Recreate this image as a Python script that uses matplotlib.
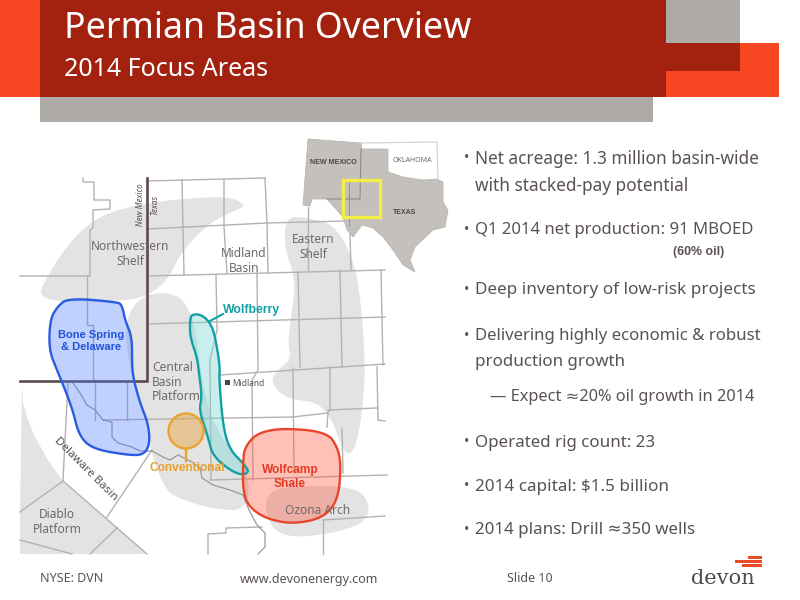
import numpy as np
import matplotlib
matplotlib.use("Agg")
import matplotlib.pyplot as plt
from matplotlib.patches import Polygon, Rectangle, Circle

# all shapes are in slide pixels (800x600)
northwest_shelf = [(38,296),(47,277),(65,248),(91,221),(122,208),(167,200),(227,196),(247,205),(234,211),(213,221),(194,238),(178,258),(171,274),(158,289),(135,301),(60,302)]
central_platform = [(125,320),(141,295),(174,292),(190,309),(197,340),(205,400),(222,440),(250,472),(247,511),(213,509),(180,499),(165,490),(150,450),(147,420),(128,363)]
eastern_shelf = [(286,216),(310,218),(335,225),(355,262),(362,313),(365,363),(364,393),(359,435),(351,456),(342,449),(332,419),(317,402),(287,399),(271,384),(275,372),(291,360),(288,343),(291,317),(296,280),(284,247)]
ozona_arch = [(264,500),(278,486),(355,486),(370,503),(366,522),(335,533),(290,538),(270,527)]
diablo_platform = [(63,481),(117,528),(147,554),(20,554),(20,512)]
west_band = [(22,383),(23,403),(28,420),(35,437),(48,460),(63,481),(20,512)]

bone_spring = [(50,320),(57,307),(68,298),(117,302),(122,305),(125,320),(132,337),(132,363),(133,377),(140,403),(148,423),(150,443),(144,455),(127,455),(93,449),(79,436),(72,407),(57,370),(49,350)]
wolfberry = [(190,320),(192,314),(203,315),(213,327),(218,353),(220,370),(219,377),(223,427),(230,450),(243,463),(250,473),(237,475),(213,457),(208,437),(199,410),(202,397),(199,373),(197,357),(190,337)]
wolfcamp = [(243,460),(245,447),(257,433),(283,428),(327,432),(338,448),(341,467),(338,500),(323,518),(293,524),(267,519),(250,508),(243,493)]
conventional_center = (186,431)
conventional_radius = 17.5

county_lines = [
    [(83,178),(83,182),(94,182),(94,200),(110,200),(110,209),(93,210),(93,228),(90,230),(90,276),(20,276)],
    [(87,276),(87,325),(93,325),(93,380)],
    [(147,181),(265,178)],
    [(147,229),(267,223),(385,220)],
    [(147,276),(385,270)],
    [(147,324),(385,317)],
    [(220,375),(385,364)],
    [(103,420),(293,417)],
    [(293,417),(327,413)],
    [(328,410),(377,408)],
    [(182,180),(184,275)],
    [(224,180),(224,227),(227,273)],
    [(265,178),(267,223),(268,273)],
    [(308,207),(308,270)],
    [(350,233),(351,270)],
    [(216,275),(217,330),(210,360),(211,480)],
    [(257,273),(258,370),(252,380),(253,480)],
    [(298,272),(300,367)],
    [(340,270),(342,367)],
    [(381,270),(383,365)],
    [(293,368),(294,473)],
    [(330,367),(330,410),(328,412),(327,427)],
    [(377,367),(378,420),(385,421)],
    [(342,428),(343,473)],
    [(210,480),(387,475)],
    [(323,520),(323,554)],
    [(323,520),(385,516)],
    [(208,554),(208,534),(226,533),(226,528),(262,527)],
    [(127,382),(127,420)],
    [(95,380),(95,420)],
    [(68,383),(63,480)],
    [(152,450),(107,517)],
    [(63,481),(147,554)],
    [(20,512),(63,481)],
    [(20,540),(72,554)],
    [(117,528),(90,554)],
]
pecos_river = [(73,383),(80,393),(87,405),(95,410),(103,420),(112,422),(112,437),(118,443),(132,447),(140,451),(152,451),(163,457),(170,460),(178,455),(192,462),(200,468),(202,478),(213,485),(230,490),(243,495),(249,510),(257,525),(265,533),(265,547),(258,554)]
state_border = [(147,178),(147,381),(20,381)]

inset_states = [(308,139),(361,143),(362,149),(388,149),(388,172),(403,177),(423,180),(437,179),(443,182),(443,202),(448,210),(445,227),(433,230),(415,247),(410,260),(415,272),(403,265),(393,250),(383,237),(373,228),(362,225),(353,237),(347,230),(343,217),(327,199),(312,199),(310,206),(303,205)]
inset_oklahoma = [(361,143),(437,142),(438,179)]
inset_border = [(361,149),(360,199),(327,199)]

bullet_texts = [
    "Net acreage: 1.3 million basin-wide",
    "with stacked-pay potential",
    "Q1 2014 net production: 91 MBOED",
    "Deep inventory of low-risk projects",
    "Delivering highly economic & robust",
    "production growth",
    "— Expect ≈20% oil growth in 2014",
    "Operated rig count: 23",
    "2014 capital: $1.5 billion",
    "2014 plans: Drill ≈350 wells",
]
map_labels = ["Northwestern\nShelf", "Midland\nBasin", "Eastern\nShelf", "Diablo\nPlatform", "Ozona Arch"]

DARK_RED = "#a3220f"
ORANGE = "#f64722"
GREY = "#aeaaa5"
TEXT = "#5a5252"
MAP_TEXT = "#6e6a68"
FONT = "Noto Sans"
BOLD_FONT = "Liberation Sans"


def smooth(points, passes=3):
    # corner cutting so the hand-read outlines come out round
    pts = np.array(points, dtype=float)
    for _ in range(passes):
        nxt = np.roll(pts, -1, axis=0)
        pts = np.column_stack([0.75*pts + 0.25*nxt, 0.25*pts + 0.75*nxt]).reshape(-1, 2)
    return pts


def label(x, y, s, size, color=TEXT, ha="left", weight="normal", rotation=0, style="normal", zorder=8, font=FONT, linespacing=1.15):
    return ax.text(x, y, s, fontsize=size, color=color, ha=ha, va="center", fontweight=weight,
                   rotation=rotation, fontstyle=style, family=[font, "DejaVu Sans"], zorder=zorder,
                   linespacing=linespacing, rotation_mode="anchor", multialignment=ha)


fig = plt.figure(figsize=(8, 6), dpi=100)
ax = fig.add_axes([0, 0, 1, 1])
ax.set_xlim(0, 800)
ax.set_ylim(600, 0)
ax.axis("off")

# header blocks
ax.add_patch(Rectangle((0, 0), 40, 97, color=ORANGE, lw=0))
ax.add_patch(Rectangle((40, 97), 613, 25, color=GREY, lw=0))
ax.add_patch(Rectangle((653, 43), 126, 54, color=ORANGE, lw=0))
ax.add_patch(Rectangle((666, 0), 74, 43, color=GREY, lw=0))
ax.add_patch(Rectangle((40, 0), 626, 97, color=DARK_RED, lw=0))
ax.add_patch(Rectangle((666, 43), 74, 28, color=DARK_RED, lw=0))
ax.add_patch(Rectangle((653, 71), 13, 26, color=DARK_RED, lw=0))
label(64, 29, "Permian Basin Overview", 25.7, color="white")
label(64, 70, "2014 Focus Areas", 18, color="white")

# map background
for shape in [northwest_shelf, central_platform, eastern_shelf, ozona_arch]:
    ax.add_patch(Polygon(smooth(shape), closed=True, fc="#e3e3e3", ec="none", zorder=1))
ax.add_patch(Polygon(west_band, closed=True, fc="#e3e3e3", ec="none", zorder=1))
ax.add_patch(Polygon(diablo_platform, closed=True, fc="#e3e3e3", ec="none", zorder=1))
for line in county_lines:
    xs, ys = zip(*line)
    ax.plot(xs, ys, color="#b4b2b0", lw=1.0, zorder=2)
xs, ys = zip(*pecos_river)
ax.plot(xs, ys, color="#9a9896", lw=0.9, zorder=2)
xs, ys = zip(*state_border)
ax.plot(xs, ys, color="#5b4b4b", lw=1.9, zorder=3, solid_joinstyle="miter")

# focus areas
ax.add_patch(Polygon(smooth(bone_spring), closed=True, fc="#4f7dff", alpha=0.35, ec="none", zorder=4))
ax.add_patch(Polygon(smooth(bone_spring), closed=True, fc="none", ec="#2a5be0", lw=1.7, zorder=5))
ax.add_patch(Polygon(smooth(wolfberry), closed=True, fc="#7fd8d8", alpha=0.42, ec="none", zorder=4))
ax.add_patch(Polygon(smooth(wolfberry), closed=True, fc="none", ec="#12a0a4", lw=1.7, zorder=5))
ax.add_patch(Polygon(smooth(wolfcamp), closed=True, fc="#ff5a45", alpha=0.38, ec="none", zorder=4))
ax.add_patch(Polygon(smooth(wolfcamp), closed=True, fc="none", ec="#e8452c", lw=1.7, zorder=5))
ax.add_patch(Circle(conventional_center, conventional_radius, fc="#e8a848", alpha=0.5, ec="none", zorder=4))
ax.add_patch(Circle(conventional_center, conventional_radius, fc="none", ec="#eba22e", lw=1.7, zorder=5))
ax.plot([186, 186], [449, 461], color="#eba22e", lw=1.7, zorder=5)
ax.plot([210, 223], [321, 314], color="#12a0a4", lw=1.5, zorder=5)

# inset
ax.fill([361, 437, 438, 423, 403, 388, 388, 362], [143, 142, 179, 180, 177, 172, 149, 149], color="white", zorder=3)
ax.add_patch(Polygon(inset_states, closed=True, fc="#c4c0bb", ec="#b5b1ac", lw=0.5, zorder=3))
xs, ys = zip(*inset_oklahoma)
ax.plot(xs, ys, color="#d5d3d0", lw=0.9, zorder=3)
xs, ys = zip(*inset_border)
ax.plot(xs, ys, color="#8f8b87", lw=0.8, zorder=4)
ax.plot([349, 349], [180, 226], color="#8f8b87", lw=0.6, zorder=4)
ax.add_patch(Rectangle((343, 180), 37, 37, fc="none", ec="#f4ee45", lw=2.4, zorder=6))
label(333.5, 162, "NEW MEXICO", 5.1, color="#4d4646", ha="center", weight="bold", font=BOLD_FONT)
label(412.5, 160, "OKLAHOMA", 5.1, color="#6e6a68", ha="center")
label(405, 212, "TEXAS", 5, color="#4d4646", ha="center", weight="bold", font=BOLD_FONT)

for (x, y), s in zip([(130, 254), (244, 261), (313, 247), (57, 522), (318, 510)], map_labels):
    label(x, y, s, 8.6, color=MAP_TEXT, ha="center")
label(152, 382, "Central\nBasin\nPlatform", 8.6, color=MAP_TEXT)
label(86, 469, "Delaware Basin", 8.4, color="#554f4f", ha="center", rotation=-45)
label(140.5, 205, "New Mexico", 5.8, color="#555050", ha="center", rotation=90, style="italic")
label(155, 205, "Texas", 5.8, color="#555050", ha="center", rotation=90, style="italic")
ax.add_patch(Rectangle((225, 380), 5, 5, color="#4d4646", lw=0, zorder=8))
label(232, 383, "Midland", 6, color="#555050")

label(91, 341, "Bone Spring\n& Delaware", 8, color="#2153d8", ha="center", weight="bold", font=BOLD_FONT)
label(251.5, 310, "Wolfberry", 8.8, color="#12a0a4", ha="center", weight="bold", font=BOLD_FONT)
label(187.5, 468, "Conventional", 8.6, color="#e8a02c", ha="center", weight="bold", font=BOLD_FONT)
label(290, 477, "Wolfcamp\nShale", 8.6, color="#e33b22", ha="center", weight="bold", font=BOLD_FONT)

# right hand text, sizes fitted per line to the reference widths
bullet_x = [475, 475, 475, 475, 475, 475, 490, 475, 475, 475]
bullet_y = [159, 186, 230, 290, 336, 362, 397, 443, 487, 530]
bullet_size = [12.4, 12.4, 12.0, 12.3, 12.1, 12.2, 11.8, 12.2, 12.3, 12.2]
has_dot = [True, False, True, True, True, False, False, True, True, True]
for s, x, y, size, dot in zip(bullet_texts, bullet_x, bullet_y, bullet_size, has_dot):
    label(x, y, s, size, color=TEXT)
    if dot:
        label(467, y, "•", 10, color=TEXT, ha="center")
label(698.5, 252, "(60% oil)", 8.9, color=TEXT, ha="center", weight="bold", font=BOLD_FONT)

# footer
label(40, 579, "NYSE: DVN", 9, color=TEXT)
label(309, 579, "www.devonenergy.com", 9, color=TEXT, ha="center")
label(530, 579, "Slide 10", 9, color=TEXT, ha="center")
ax.add_patch(Rectangle((748, 556), 14, 2.6, color="#ea4a25", lw=0))
ax.add_patch(Rectangle((735, 560), 27, 2.6, color="#ea4a25", lw=0))
ax.add_patch(Rectangle((742, 564), 20, 2.6, color="#ea4a25", lw=0))
ax.text(722.5, 578, "devon", fontsize=15, color="#4f4848", ha="center", va="center", family="DejaVu Serif")

fig.savefig("out.png", dpi=100)
